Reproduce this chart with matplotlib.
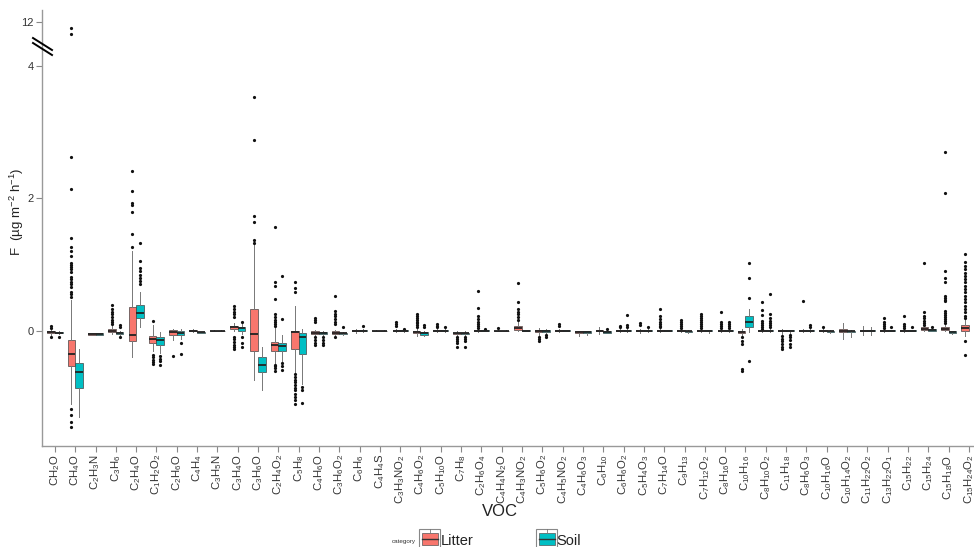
import re
import numpy as np
import matplotlib
matplotlib.use("Agg")
import matplotlib.pyplot as plt
from matplotlib.patches import Rectangle
from matplotlib.lines import Line2D

plt.rcParams['font.family'] = ['Liberation Sans', 'DejaVu Sans']
plt.rcParams['mathtext.fontset'] = 'custom'
plt.rcParams['mathtext.rm'] = 'Liberation Sans'
plt.rcParams['mathtext.it'] = 'Liberation Sans:italic'
plt.rcParams['mathtext.bf'] = 'Liberation Sans:bold'

# ---------------- data ----------------
categories = ['CH2O', 'CH4O', 'C2H3N', 'C3H6', 'C2H4O', 'C1H2O2', 'C2H6O', 'C4H4', 'C3H5N',
              'C3H4O', 'C3H6O', 'C2H4O2', 'C5H8', 'C4H6O', 'C3H6O2', 'C6H6', 'C4H4S',
              'C3H3NO2', 'C4H6O2', 'C5H10O', 'C7H8', 'C2H6O4', 'C4H4N2O', 'C4H3NO2',
              'C5H6O2', 'C4H5NO2', 'C4H6O3', 'C6H10', 'C6H6O2', 'C5H4O3', 'C7H14O', 'C9H13',
              'C7H12O2', 'C8H16O', 'C10H16', 'C8H10O2', 'C11H18', 'C8H6O3', 'C10H16O',
              'C10H14O2', 'C11H22O2', 'C13H22O1', 'C15H22', 'C15H24', 'C15H18O', 'C15H24O2']

litter_q1 = [-0.04, -0.54, -0.06, -0.025, -0.16, -0.19, -0.065, -0.005, -0.003, 0.025, -0.31, -0.30,
             -0.27, -0.05, -0.05, -0.01, -0.003, -0.01, -0.04, -0.01, -0.05, -0.005, -0.003, 0.01,
             -0.02, -0.01, -0.03, -0.01, -0.01, -0.01, -0.01, -0.01, -0.01, -0.01, -0.04, -0.01,
             -0.01, -0.01, -0.01, -0.02, -0.01, -0.01, -0.01, 0.01, 0.01, -0.01]
litter_med = [-0.02, -0.35, -0.05, 0.0, -0.06, -0.125, -0.025, 0.0, 0.0, 0.05, -0.05, -0.21,
              -0.025, -0.03, -0.03, 0.0, 0.0, 0.0, -0.02, 0.0, -0.04, 0.0, 0.0, 0.04,
              0.0, 0.0, -0.02, 0.0, 0.0, 0.0, 0.0, 0.0, 0.0, 0.0, -0.02, 0.0,
              0.0, 0.0, 0.0, 0.0, 0.0, 0.0, 0.0, 0.03, 0.03, 0.04]
litter_q3 = [-0.01, -0.14, -0.04, 0.025, 0.36, -0.075, 0.01, 0.005, 0.003, 0.075, 0.33, -0.17,
             0.0, -0.01, -0.01, 0.01, 0.003, 0.01, 0.0, 0.01, -0.03, 0.01, 0.003, 0.075,
             0.01, 0.01, -0.01, 0.01, 0.01, 0.01, 0.01, 0.01, 0.01, 0.01, -0.01, 0.01,
             0.01, 0.01, 0.01, 0.02, 0.01, 0.01, 0.01, 0.06, 0.06, 0.09]
litter_lo = [-0.06, -1.10, -0.07, -0.05, -0.40, -0.30, -0.14, -0.02, -0.005, 0.0, -0.74, -0.50,
             -0.63, -0.08, -0.07, -0.03, -0.005, -0.02, -0.08, -0.02, -0.07, -0.02, -0.005, 0.0,
             -0.07, -0.02, -0.08, -0.05, -0.02, -0.03, -0.02, -0.02, -0.02, -0.02, -0.07, -0.02,
             -0.05, -0.02, -0.02, -0.13, -0.07, -0.02, -0.02, 0.0, 0.0, -0.08]
litter_hi = [0.02, 0.46, -0.03, 0.07, 1.20, 0.08, 0.03, 0.02, 0.005, 0.12, 1.30, 0.05,
             0.37, 0.01, 0.01, 0.03, 0.005, 0.02, 0.03, 0.02, -0.01, 0.02, 0.005, 0.13,
             0.04, 0.02, 0.0, 0.05, 0.02, 0.03, 0.02, 0.02, 0.02, 0.02, 0.02, 0.02,
             0.02, 0.02, 0.02, 0.11, 0.07, 0.02, 0.02, 0.08, 0.10, 0.17]
litter_out = [
    [0.07, 0.04, -0.09],
    [11.80, 11.62, 2.62, 2.15, 1.41, 1.27, 1.21, 1.13, 1.02, 0.99, 0.96, 0.93, 0.89, 0.82, 0.78,
     0.74, 0.70, 0.66, 0.58, 0.55, 0.51, -1.18, -1.28, -1.38, -1.45],
    [],
    [0.39, 0.33, 0.29, 0.25, 0.21, 0.17, 0.13, 0.10],
    [2.41, 2.12, 1.93, 1.90, 1.79, 1.47, 1.26],
    [0.15, -0.36, -0.40, -0.44, -0.47, -0.50],
    [-0.38],
    [],
    [],
    [0.37, 0.33, 0.29, 0.25, 0.21, -0.10, -0.13, -0.17, -0.21, -0.25, -0.28],
    [3.53, 2.88, 1.73, 1.64, 1.37, 1.33],
    [1.57, 0.74, 0.68, 0.48, 0.25, 0.21, 0.17, 0.13, 0.10, 0.07, -0.51, -0.54, -0.57, -0.61],
    [0.73, 0.65, 0.58, -0.66, -0.70, -0.74, -0.78, -0.82, -0.86, -0.90, -0.95, -1.00, -1.05, -1.10],
    [0.20, 0.16, 0.13, -0.10, -0.14, -0.18, -0.22],
    [0.52, 0.30, 0.26, 0.22, 0.18, 0.14, 0.10, -0.10],
    [],
    [],
    [0.14, 0.10, 0.07],
    [0.26, 0.23, 0.20, 0.17, 0.14, 0.11, 0.08, 0.05],
    [0.10, 0.07, 0.05],
    [-0.10, -0.13, -0.16, -0.19, -0.25],
    [0.60, 0.34, 0.23, 0.18, 0.14, 0.10, 0.07, 0.04],
    [0.035],
    [0.72, 0.43, 0.33, 0.29, 0.25, 0.21, 0.17],
    [-0.10, -0.13, -0.15],
    [0.10, 0.07],
    [],
    [],
    [0.07, 0.05],
    [0.12, 0.08],
    [0.33, 0.22, 0.18, 0.14, 0.10, 0.07, 0.05],
    [0.17, 0.13, 0.10, 0.07, 0.04],
    [0.25, 0.22, 0.19, 0.16, 0.13, 0.10, 0.07, 0.04],
    [0.28, 0.13, 0.10, 0.07, 0.04],
    [-0.10, -0.15, -0.20, -0.58, -0.61],
    [0.44, 0.31, 0.24, 0.15, 0.12, 0.09, 0.06, 0.03],
    [-0.08, -0.12, -0.16, -0.20, -0.24, -0.28],
    [0.45],
    [0.06],
    [],
    [],
    [0.19, 0.13, 0.10, 0.07, 0.04],
    [0.22, 0.10, 0.07, 0.04],
    [1.03, 0.29, 0.23, 0.19, 0.15, 0.12, 0.09],
    [2.70, 2.09, 0.91, 0.80, 0.73, 0.53, 0.50, 0.47, 0.45, 0.30, 0.27, 0.24, 0.21, 0.18, 0.15, 0.12],
    [1.16, 1.04, 0.98, 0.93, 0.88, 0.83, 0.78, 0.73, 0.68, 0.63, 0.58, 0.53, 0.48, 0.43, 0.38,
     0.33, 0.28, 0.23, 0.19, -0.15, -0.36],
]

nan = float('nan')
soil_q1 = [-0.04, -0.86, -0.06, -0.05, 0.20, -0.21, -0.065, -0.03, -0.003, 0.0, -0.62, -0.30,
           -0.35, -0.05, -0.05, -0.01, -0.003, -0.01, -0.06, -0.01, -0.05, -0.005, -0.003, -0.005,
           -0.02, -0.005, -0.03, -0.03, -0.01, -0.01, -0.005, -0.02, -0.01, -0.01, 0.06, -0.01,
           -0.01, -0.01, -0.02, -0.02, -0.01, -0.005, -0.005, 0.0, -0.04, nan]
soil_med = [-0.03, -0.63, -0.05, -0.04, 0.27, -0.14, -0.035, -0.025, 0.0, 0.035, -0.51, -0.23,
            -0.10, -0.035, -0.04, 0.0, 0.0, 0.0, -0.03, 0.0, -0.04, 0.0, 0.0, 0.0,
            0.0, 0.0, -0.02, -0.02, 0.0, 0.0, 0.0, -0.01, 0.0, 0.0, 0.14, 0.0,
            0.0, 0.0, -0.01, -0.01, 0.0, 0.0, 0.0, 0.01, -0.02, nan]
soil_q3 = [-0.02, -0.48, -0.04, -0.02, 0.39, -0.09, 0.0, -0.02, 0.003, 0.05, -0.40, -0.18,
           -0.04, -0.015, -0.03, 0.01, 0.003, 0.01, -0.015, 0.01, -0.03, 0.005, 0.003, 0.005,
           0.01, 0.005, -0.01, -0.01, 0.01, 0.01, 0.005, 0.0, 0.01, 0.01, 0.23, 0.01,
           0.01, 0.01, 0.0, 0.0, 0.01, 0.005, 0.005, 0.03, -0.01, nan]
soil_lo = [-0.05, -1.30, -0.07, -0.07, 0.05, -0.33, -0.12, -0.035, -0.005, -0.05, -0.90, -0.45,
           -0.80, -0.08, -0.06, -0.02, -0.005, -0.02, -0.08, -0.02, -0.07, -0.01, -0.005, -0.01,
           -0.05, -0.01, -0.07, -0.04, -0.02, -0.02, -0.01, -0.03, -0.03, -0.02, -0.025, -0.02,
           -0.04, -0.02, -0.03, -0.10, -0.07, -0.01, -0.01, -0.01, -0.05, nan]
soil_hi = [-0.01, -0.28, -0.03, 0.0, 0.58, -0.02, 0.02, -0.015, 0.005, 0.10, -0.25, -0.07,
           0.02, 0.0, -0.02, 0.02, 0.005, 0.01, 0.0, 0.02, -0.01, 0.01, 0.005, 0.01,
           0.03, 0.01, 0.0, 0.0, 0.02, 0.02, 0.01, 0.01, 0.01, 0.02, 0.33, 0.02,
           0.01, 0.02, 0.01, 0.01, 0.05, 0.01, 0.01, 0.05, 0.0, nan]
soil_out = [
    [-0.10], [], [], [0.09, 0.05, -0.10],
    [1.33, 1.06, 0.95, 0.90, 0.85, 0.80, 0.75, 0.71],
    [-0.38, -0.42, -0.46, -0.51],
    [-0.18, -0.35], [], [],
    [0.13, -0.10, -0.18, -0.25],
    [],
    [0.83, 0.18, -0.48, -0.54, -0.60],
    [-0.85, -0.90, -1.09],
    [-0.10, -0.14, -0.18, -0.22],
    [0.06], [0.075], [], [0.03], [0.08, 0.05], [0.05],
    [-0.10, -0.13, -0.16, -0.25],
    [0.03], [], [], [-0.07, -0.10], [], [], [0.03],
    [0.24, 0.08, 0.06], [0.05], [], [], [],
    [0.13, 0.10, 0.07, 0.04],
    [1.03, 0.80, 0.50, -0.46],
    [0.56, 0.25, 0.20, 0.15, 0.12, 0.09, 0.06],
    [-0.07, -0.10, -0.14, -0.20, -0.25],
    [0.09, 0.05], [], [], [], [0.05], [0.05], [0.06], [], [],
]

series_names = ['Litter', 'Soil']
series_colors = ['#F8766D', '#00BFC4']
y_ticks = [0, 2, 4, 12]

# ---------------- broken y scale ----------------
B1, B2, GAP, K = 4.3, 11.3, 0.05, 0.45


def fwd(v):
    v = np.asarray(v, dtype=float)
    mid = B1 + (v - B1) * GAP / (B2 - B1)
    up = B1 + GAP + (v - B2) * K
    return np.where(v <= B1, v, np.where(v >= B2, up, mid))


def inv(t):
    t = np.asarray(t, dtype=float)
    T2 = B1 + GAP
    mid = B1 + (t - B1) * (B2 - B1) / GAP
    up = B2 + (t - T2) / K
    return np.where(t <= B1, t, np.where(t >= T2, up, mid))


def fmt_label(s):
    return re.sub(r'(\d+)', r'$_\\mathregular{\1}$', s)


W, H = 974, 547
fig = plt.figure(figsize=(W / 100, H / 100), dpi=100)

left_px, top_px, bottom_px = 41.5, 10, 446
x_lo, x_hi = -0.66, 45.6
spacing = 20.31
width_px = (x_hi - x_lo) * spacing
ax = fig.add_axes([left_px / W, 1 - bottom_px / H, width_px / W, (bottom_px - top_px) / H])
ax.set_yscale('function', functions=(fwd, inv))


def make_stats(q1, med, q3, lo, hi, out):
    stats, pos = [], []
    for i in range(len(q1)):
        if np.isnan(med[i]):
            continue
        stats.append(dict(q1=q1[i], med=med[i], q3=q3[i], whislo=lo[i], whishi=hi[i],
                          fliers=np.array(out[i], dtype=float)))
        pos.append(i)
    return stats, np.array(pos, dtype=float)


data = [
    (litter_q1, litter_med, litter_q3, litter_lo, litter_hi, litter_out),
    (soil_q1, soil_med, soil_q3, soil_lo, soil_hi, soil_out),
]
bw = 0.375
for k, (vals, col) in enumerate(zip(data, series_colors)):
    stats, pos = make_stats(*vals)
    off = -bw / 2 if k == 0 else bw / 2
    ax.bxp(stats, positions=pos + off, widths=bw, patch_artist=True, showcaps=False,
           manage_ticks=False,
           boxprops=dict(facecolor=col, edgecolor='#444444', linewidth=0.5),
           medianprops=dict(color='#222222', linewidth=1.3, solid_capstyle='butt'),
           whiskerprops=dict(color='#777777', linewidth=0.7),
           flierprops=dict(marker='o', markersize=2.3, markerfacecolor='#111111',
                           markeredgecolor='none', linestyle='none'))

ax.set_xlim(x_lo, x_hi)
ax.set_ylim(-1.742, 12.41)
ax.set_yticks(y_ticks)
ax.set_yticklabels([str(t) for t in y_ticks])
ax.yaxis.set_minor_locator(matplotlib.ticker.NullLocator())
ax.set_xticks(np.arange(len(categories)))
ax.set_xticklabels([fmt_label(c) for c in categories], rotation=90, fontsize=8.2, color='#333333')
ax.tick_params(axis='y', labelsize=8, colors='#333333', length=4, width=0.8, color='#888888',
               pad=1.5)
ax.tick_params(axis='x', length=4, width=0.8, color='#888888', pad=2)
for s in ['top', 'right']:
    ax.spines[s].set_visible(False)
for s in ['left', 'bottom']:
    ax.spines[s].set_color('#999999')
    ax.spines[s].set_linewidth(1.0)


def P(x, y):
    return (x / W, 1 - y / H)


# break marks on the y axis
for dy in (0, 5):
    x0, y0 = P(33, 38 + dy)
    x1, y1 = P(52, 50 + dy)
    fig.add_artist(Line2D([x0, x1], [y0, y1], color='black', linewidth=1.4,
                          transform=fig.transFigure))

# axis titles
fig.text(*P(17, 212), 'F  (\u00b5g m$^{-2}$ h$^{-1}$)', rotation=90, ha='center', va='center',
         fontsize=9.5, color='#222222')
fig.text(*P(500, 512), 'VOC', ha='center', va='center', fontsize=12, color='#222222')

# legend
fig.text(*P(392, 541), 'category', ha='left', va='center', fontsize=4.5, color='#333333')
for name, col, kx, tx in zip(series_names, series_colors, [419, 536], [441, 556]):
    kx0, ky0 = P(kx, 550)
    fig.add_artist(Rectangle((kx0, ky0), 21 / W, 21 / H, transform=fig.transFigure,
                             facecolor='white', edgecolor='#888888', linewidth=0.8))
    bx0, by0 = P(kx + 2.5, 545)
    fig.add_artist(Rectangle((bx0, by0), 16 / W, 12 / H, transform=fig.transFigure,
                             facecolor=col, edgecolor='#555555', linewidth=0.5))
    mx0, my = P(kx + 2.5, 538.5)
    mx1, _ = P(kx + 18.5, 538.5)
    fig.add_artist(Line2D([mx0, mx1], [my, my], color='#333333', linewidth=1.0,
                          transform=fig.transFigure))
    cx, cy0 = P(kx + 10.5, 529)
    _, cy1 = P(kx + 10.5, 533)
    fig.add_artist(Line2D([cx, cx], [cy0, cy1], color='#777777', linewidth=0.6,
                          transform=fig.transFigure))
    fig.text(*P(tx, 545), name, ha='left', va='baseline', fontsize=10.5, color='#222222')

fig.savefig('out.png', dpi=100)
